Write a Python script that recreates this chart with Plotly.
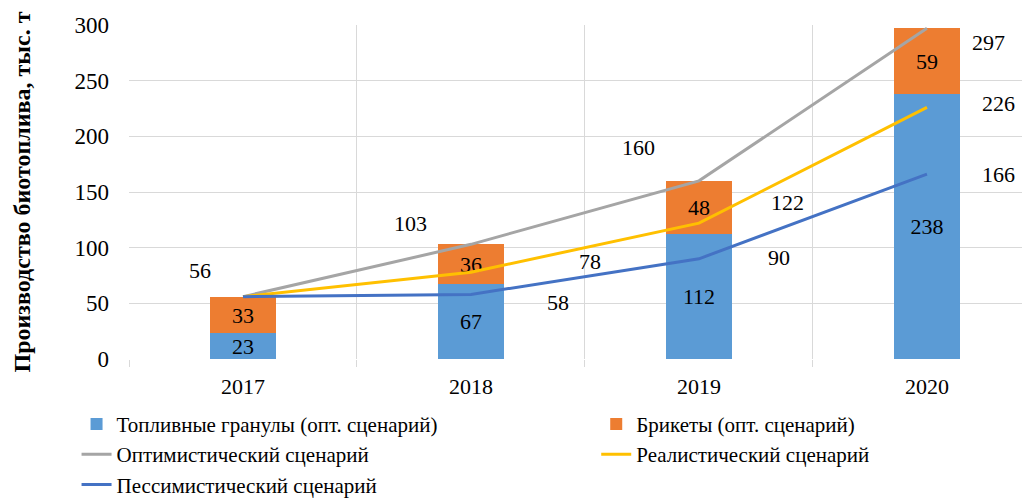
import plotly.graph_objects as go

# data
years = ['2017', '2018', '2019', '2020']
granules = [23, 67, 112, 238]
briquettes = [33, 36, 48, 59]
optimistic = [56, 103, 160, 297]
realistic = [56, 78, 122, 226]
pessimistic = [56, 58, 90, 166]

FONT = 'Times New Roman, Liberation Serif, serif'

fig = go.Figure()

fig.add_trace(go.Bar(x=years, y=granules, name='Топливные гранулы (опт. сценарий)',
                     marker=dict(color='#5B9BD5', line=dict(width=0)), width=0.29,
                     text=granules, textposition='inside', insidetextanchor='middle', textangle=0,
                     textfont=dict(color='black', size=22, family=FONT), legend='legend'))
fig.add_trace(go.Bar(x=years, y=briquettes, name='Брикеты (опт. сценарий)',
                     marker=dict(color='#ED7D31', line=dict(width=0)), width=0.29,
                     text=briquettes, textposition='inside', insidetextanchor='middle', textangle=0,
                     textfont=dict(color='black', size=22, family=FONT), legend='legend2'))

fig.add_trace(go.Scatter(x=years, y=optimistic, name='Оптимистический сценарий', mode='lines',
                         line=dict(color='#A5A5A5', width=3), legend='legend'))
fig.add_trace(go.Scatter(x=years, y=realistic, name='Реалистический сценарий', mode='lines',
                         line=dict(color='#FFC000', width=3), legend='legend2'))
fig.add_trace(go.Scatter(x=years, y=pessimistic, name='Пессимистический сценарий', mode='lines',
                         line=dict(color='#4472C4', width=3), legend='legend'))

# line labels, pixel offsets from each point as placed in the reference
label_shifts = {
    'opt': [(-43, 26), (-60, 21), (-60, 33), (62, -14)],
    'real': [None, (119, 11), (89, 21), (72, 4)],
    'pess': [None, (87, -8), (80, 1), (72, 0)],
}
for key, vals in (('opt', optimistic), ('real', realistic), ('pess', pessimistic)):
    for i, (v, sh) in enumerate(zip(vals, label_shifts[key])):
        if sh is None:
            continue
        fig.add_annotation(x=i, y=v, xref='x', yref='y', text=str(v), showarrow=False,
                           xshift=sh[0], yshift=sh[1],
                           font=dict(size=22, color='black', family=FONT))

# the page body adds an 8px margin, so the figure is laid out 8px up/left of the target
legend_style = dict(yref='container', y=0.21, xanchor='left', yanchor='top', orientation='v',
                    font=dict(size=21, family=FONT), traceorder='normal',
                    bgcolor='rgba(0,0,0,0)', tracegroupgap=0)

fig.update_layout(
    width=1030, height=501,
    barmode='stack',
    plot_bgcolor='white', paper_bgcolor='white',
    margin=dict(l=121, r=0, t=17, b=150),
    font=dict(family=FONT, size=22, color='black'),
    uniformtext=dict(minsize=22, mode='show'),
    legend=dict(x=-0.0577, **legend_style),
    legend2=dict(x=0.514, **legend_style),
)

fig.update_xaxes(type='category', range=[-0.5, 3.487], tickson='boundaries',
                 showgrid=True, gridcolor='#D9D9D9', gridwidth=1,
                 ticks='outside', ticklen=7, tickcolor='#D9D9D9',
                 showline=False, automargin=False, ticklabelstandoff=12,
                 tickfont=dict(size=22, family=FONT))
fig.update_yaxes(range=[0, 300], dtick=50, showgrid=True, gridcolor='#D9D9D9', gridwidth=1,
                 zeroline=False, showline=False, ticks='', ticklabelstandoff=19,
                 automargin=False, tickfont=dict(size=23, family=FONT),
                 title=dict(text='<b>Производство биотоплива, тыс. т</b>', standoff=37,
                            font=dict(size=24, family=FONT)))

fig.write_html('out.html')
